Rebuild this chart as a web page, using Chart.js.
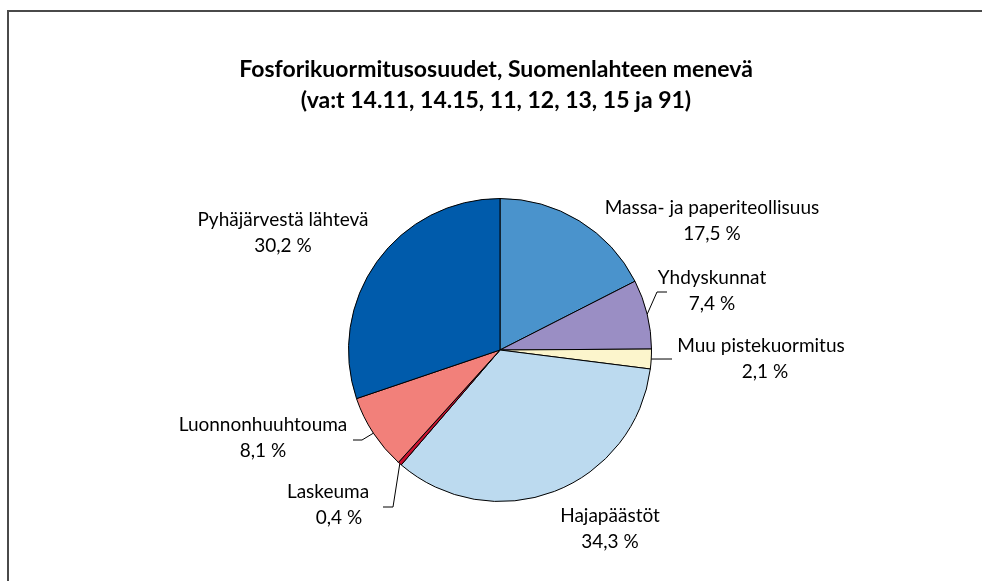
<!DOCTYPE html>
<html lang="fi">
<head>
    <meta charset="UTF-8">
    <title>Fosforikuormitusosuudet</title>
    <script src="https://cdn.jsdelivr.net/npm/chart.js"></script>
    <style>
        html, body { margin: 0; padding: 0; background: #fff; }
        canvas { display: block; }
    </style>
</head>
<body>
    <canvas id="pieChart" width="982" height="581"></canvas>

    <script>
        // Chart data
        const categories = [
            'Massa- ja paperiteollisuus',
            'Yhdyskunnat',
            'Muu pistekuormitus',
            'Hajapäästöt',
            'Laskeuma',
            'Luonnonhuuhtouma',
            'Pyhäjärvestä lähtevä'
        ];
        const shares = [17.5, 7.4, 2.1, 34.3, 0.4, 8.1, 30.2];
        const sliceColors = ['#4a93cc', '#9a8ec4', '#fcf5cc', '#bcdaef', '#c8102e', '#f2807a', '#005bab'];
        const titleLines = [
            'Fosforikuormitusosuudet, Suomenlahteen menevä',
            '(va:t 14.11, 14.15, 11, 12, 13, 15 ja 91)'
        ];

        // where each label sits (x centre, first line y, second line x), and optional leader elbow
        const labelLayout = [
            { x: 712, y: 208 },
            { x: 712, y: 278, leader: [[657, 292], [667, 292]] },
            { x: 761, y: 346, x2: 765, leader: [[672, 359]] },
            { x: 610, y: 516 },
            { x: 328, y: 492, x2: 339, leader: [[393, 507], [383, 507]] },
            { x: 263, y: 425, leader: [[362, 440], [353, 440]] },
            { x: 283, y: 220 }
        ];

        const fmt = v => v.toFixed(1).replace('.', ',') + ' %';

        const labelPlugin = {
            id: 'pieLabels',
            beforeDraw(chart) {
                const ctx = chart.ctx;
                ctx.save();
                ctx.fillStyle = '#fff';
                ctx.fillRect(0, 0, chart.width, chart.height);
                // frame (only top and left are inside the picture)
                ctx.strokeStyle = '#4a4a4a';
                ctx.lineWidth = 2;
                ctx.beginPath();
                ctx.moveTo(8, chart.height);
                ctx.lineTo(8, 11);
                ctx.lineTo(chart.width, 11);
                ctx.stroke();
                ctx.restore();
            },
            afterDraw(chart) {
                const ctx = chart.ctx;
                ctx.save();
                ctx.fillStyle = '#000';
                ctx.textAlign = 'center';
                ctx.textBaseline = 'middle';

                // title
                ctx.font = 'bold 23px Lato';
                ctx.fillText(titleLines[0], 496, 70);
                ctx.fillText(titleLines[1], 496, 101);

                // labels + leader lines
                ctx.font = '19px Lato';
                ctx.strokeStyle = '#000';
                ctx.lineWidth = 1;
                const arcs = chart.getDatasetMeta(0).data;
                arcs.forEach((arc, i) => {
                    const lay = labelLayout[i];
                    ctx.fillText(categories[i], lay.x, lay.y);
                    ctx.fillText(fmt(shares[i]), lay.x2 || lay.x, lay.y + 26);
                    if (lay.leader) {
                        const mid = (arc.startAngle + arc.endAngle) / 2;
                        const r = arc.outerRadius;
                        ctx.beginPath();
                        ctx.moveTo(arc.x + Math.cos(mid) * r, arc.y + Math.sin(mid) * r);
                        lay.leader.forEach(p => ctx.lineTo(p[0], p[1]));
                        ctx.stroke();
                    }
                });
                ctx.restore();
            }
        };

        new Chart(document.getElementById('pieChart'), {
            type: 'pie',
            data: {
                labels: categories,
                datasets: [{
                    data: shares,
                    backgroundColor: sliceColors,
                    borderColor: '#000',
                    borderWidth: 1
                }]
            },
            options: {
                responsive: false,
                animation: false,
                layout: {
                    padding: { left: 348, right: 330, top: 198, bottom: 79 }
                },
                plugins: {
                    legend: { display: false },
                    tooltip: { enabled: false },
                    title: { display: false }
                }
            },
            plugins: [labelPlugin]
        });
    </script>
</body>
</html>
